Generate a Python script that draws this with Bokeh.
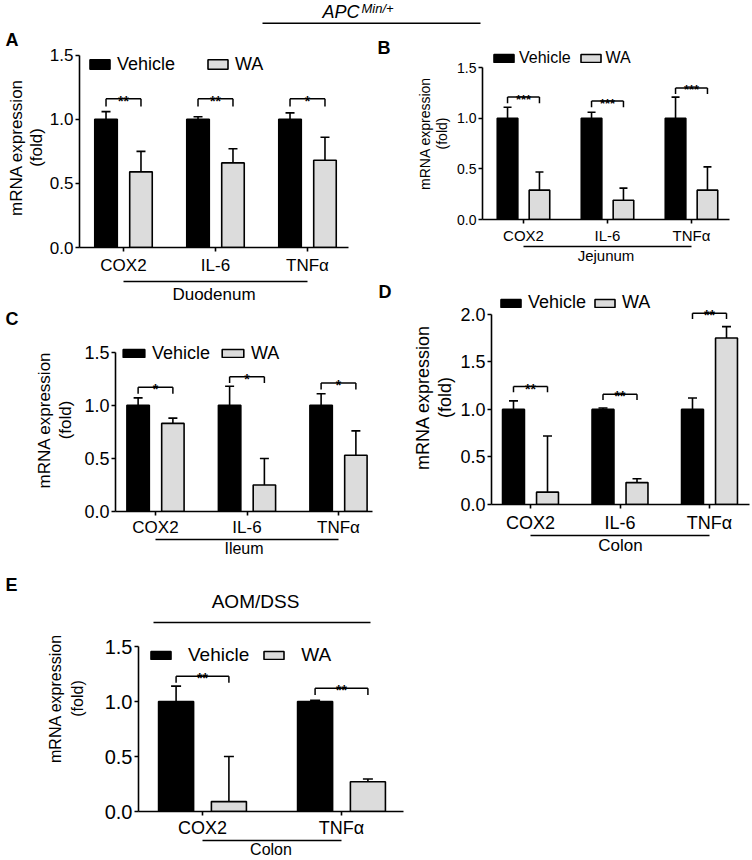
import math
from bokeh.plotting import figure
from bokeh.models import (ColumnDataSource, Range1d, LinearAxis, FixedTicker,
                          NumeralTickFormatter, Whisker, TeeHead, Label, Legend, LegendItem)
from bokeh.layouts import column, row
from bokeh.embed import file_html
from bokeh.resources import INLINE
from bokeh.core.properties import value

FONT = "Liberation Sans"
VEH_COLOR = "black"
WA_COLOR = "#dcdcdc"

genes = ["COX2", "IL-6", "TNFα"]
genes_e = ["COX2", "TNFα"]
series = ["Vehicle", "WA"]

# Panel A - Duodenum (APC Min/+)
a_veh = [1.00, 1.00, 1.00]
a_veh_sd = [0.06, 0.02, 0.05]
a_wa = [0.59, 0.66, 0.68]
a_wa_sd = [0.16, 0.11, 0.18]
a_sig = ["**", "**", "*"]
a_bracket = [1.16, 1.16, 1.16]

# Panel B - Jejunum
b_veh = [1.00, 1.00, 1.00]
b_veh_sd = [0.11, 0.06, 0.21]
b_wa = [0.29, 0.19, 0.29]
b_wa_sd = [0.18, 0.12, 0.23]
b_sig = ["***", "***", "***"]
b_bracket = [1.21, 1.17, 1.30]

# Panel C - Ileum
c_veh = [1.00, 1.00, 1.00]
c_veh_sd = [0.07, 0.18, 0.11]
c_wa = [0.83, 0.25, 0.53]
c_wa_sd = [0.05, 0.25, 0.23]
c_sig = ["*", "*", "*"]
c_bracket = [1.17, 1.27, 1.21]

# Panel D - Colon
d_veh = [1.00, 1.00, 1.00]
d_veh_sd = [0.09, 0.015, 0.12]
d_wa = [0.13, 0.23, 1.75]
d_wa_sd = [0.59, 0.04, 0.12]
d_sig = ["**", "**", "**"]
d_bracket = [1.24, 1.16, 2.01]

# Panel E - Colon (AOM/DSS)
e_veh = [1.00, 1.00]
e_veh_sd = [0.14, 0.01]
e_wa = [0.09, 0.27]
e_wa_sd = [0.41, 0.025]
e_sig = ["**", "**"]
e_bracket = [1.23, 1.12]

yticks_15 = [0.0, 0.5, 1.0, 1.5]
yticks_20 = [0.0, 0.5, 1.0, 1.5, 2.0]


def make_panel(cats, veh, veh_sd, wa, wa_sd, sig, bracket, tissue, letter, c):
    X0, Y0, W, H = c["canvas"]
    L, R, B, k, ytop = c["L"], c["R"], c["B"], c["k"], c["ytop"]
    T = B - ytop * k
    c0, sp = c["c0"], c["sp"]
    off, bw = c["off"], c["bw"]
    p = figure(width=W, height=H, output_backend="svg", toolbar_location=None,
               x_range=Range1d((L - c0) / sp, (R - c0) / sp),
               y_range=Range1d(0, ytop),
               min_border_left=int(round(L - X0)), min_border_right=int(round(X0 + W - R)),
               min_border_top=int(round(T - Y0)), min_border_bottom=int(round(Y0 + H - B)),
               x_axis_type=None, y_axis_type=None, frame_align=False)
    p.outline_line_color = None
    p.background_fill_color = "white"
    p.border_fill_color = "white"

    # panel letter as a left-aligned title
    lx, lb = c["letter"]
    lfs = 18
    p.title.text = letter
    p.title.align = "left"
    p.title.offset = lx - L
    p.title.text_font = FONT
    p.title.text_font_size = f"{lfs}px"
    p.title.text_font_style = "bold"
    p.title.text_color = "black"
    p.title.vertical_align = "bottom"
    p.title.standoff = int(round(2 * (T - (lb + 0.21 * lfs))))

    yax = LinearAxis(ticker=FixedTicker(ticks=c["yticks"]),
                     formatter=NumeralTickFormatter(format="0.0"),
                     bounds=(0, c["yticks"][-1]))
    yax.major_tick_out = 4
    yax.major_tick_in = 0
    yax.minor_tick_line_color = None
    yax.axis_line_width = 1.6
    yax.major_tick_line_width = 1.6
    yax.major_label_text_font = FONT
    yax.major_label_text_font_size = c["tick_fs"]
    yax.major_label_text_color = "black"
    yax.major_label_standoff = 2
    yax.axis_label = "mRNA expression\n(fold)"
    yax.axis_label_text_font = FONT
    yax.axis_label_text_font_size = c["ylab_fs"]
    yax.axis_label_text_font_style = "normal"
    yax.axis_label_text_color = "black"
    yax.axis_label_standoff = c["ylab_standoff"]
    yax.axis_label_text_line_height = c["ylab_lh"]
    p.add_layout(yax, "left")

    xs = list(range(len(cats)))
    xax = LinearAxis(ticker=FixedTicker(ticks=xs),
                     major_label_overrides={i: cat for i, cat in enumerate(cats)})
    xax.major_tick_out = 4
    xax.major_tick_in = 0
    xax.minor_tick_line_color = None
    xax.axis_line_width = 1.6
    xax.major_tick_line_width = 1.6
    xax.major_label_text_font = FONT
    xax.major_label_text_font_size = c["cat_fs"]
    xax.major_label_text_color = "black"
    xax.major_label_standoff = c["cat_standoff"]
    if c["gap"] is not None:
        xax.axis_label = " "
        xax.axis_label_text_font_size = "1px"
        xax.axis_label_standoff = c["gap"]
    p.add_layout(xax, "below")

    tax = LinearAxis(ticker=FixedTicker(ticks=[]), bounds=(0, len(cats) - 1),
                     axis_label=tissue)
    tax.major_tick_out = 0
    tax.major_tick_in = 0
    tax.minor_tick_line_color = None
    tax.major_label_standoff = 0
    tax.axis_line_width = 1.6
    tax.axis_label_text_font = FONT
    tax.axis_label_text_font_size = c["tis_fs"]
    tax.axis_label_text_font_style = "normal"
    tax.axis_label_text_color = "black"
    tax.axis_label_standoff = c["tis_standoff"]
    tax.axis_label_text_line_height = c["tis_lh"]
    p.add_layout(tax, "below")

    xv = [i - off for i in xs]
    xw = [i + off for i in xs]
    leg = c["leg"]
    src = ColumnDataSource(dict(
        x=xs, xv=xv, xw=xw, veh=veh, wa=wa,
        veh_up=[v + s for v, s in zip(veh, veh_sd)],
        wa_up=[v + s for v, s in zip(wa, wa_sd)],
        br=bracket, br_low=[b - leg for b in bracket], sig=sig))

    for base, lo, hi in (("xv", "veh", "veh_up"), ("xw", "wa", "wa_up")):
        p.add_layout(Whisker(source=src, base=base, lower=lo, upper=hi, dimension="height",
                             line_width=1.6, line_color="black",
                             upper_head=TeeHead(size=c["cap"], line_width=1.6, line_color="black"),
                             lower_head=None))

    r_veh = p.vbar(x="xv", top="veh", bottom=0, width=bw, source=src,
                   fill_color=VEH_COLOR, line_color="black", line_width=1.6)
    r_wa = p.vbar(x="xw", top="wa", bottom=0, width=bw, source=src,
                  fill_color=WA_COLOR, line_color="black", line_width=1.6)

    p.segment(x0="xv", y0="br", x1="xw", y1="br", source=src, line_color="black", line_width=1.5)
    p.segment(x0="xv", y0="br_low", x1="xv", y1="br", source=src, line_color="black", line_width=1.5)
    p.segment(x0="xw", y0="br_low", x1="xw", y1="br", source=src, line_color="black", line_width=1.5)
    p.text(x="x", y="br", text="sig", source=src, text_align="center",
           text_baseline="alphabetic", text_font=value(FONT), text_font_size=c["star_fs"],
           text_font_style="bold", text_color="black", y_offset=c["star_dy"])

    gx, gy, gw, gh = c["legend"]
    fs = float(c["leg_fs"][:-2])
    lh = max(gh, fs * 1.2)
    legend = Legend(items=[LegendItem(label=series[0], renderers=[r_veh]),
                           LegendItem(label=series[1], renderers=[r_wa])],
                    orientation="horizontal",
                    location=(gx - L, B - (gy + lh / 2)))
    legend.glyph_width = gw
    legend.glyph_height = gh
    legend.label_height = gh
    legend.label_standoff = c["leg_standoff"]
    legend.spacing = c["leg_spacing"]
    legend.padding = 0
    legend.margin = 0
    legend.border_line_color = None
    legend.background_fill_alpha = 0
    legend.label_text_font = FONT
    legend.label_text_font_size = c["leg_fs"]
    legend.label_text_color = "black"
    p.add_layout(legend)
    return p, B, k, L


base_cfg = dict(off=0.19, bw=0.245, leg=0.06, cap=9, star_fs="14px", star_dy=2,
                cat_standoff=4, gap=None, tis_standoff=0, tis_lh=1.0)

cfgA = dict(base_cfg, canvas=(0, 26, 376, 280), L=79, R=348, B=247, k=128, ytop=1.56,
            yticks=yticks_15, c0=123, sp=92, tis_standoff=3, gap=0,
            tick_fs="17px", cat_fs="17px", tis_fs="17px", ylab_fs="17px", leg_fs="18px",
            ylab_standoff=1, ylab_lh=1.06,
            legend=(87, 64, 25, 12), leg_standoff=5, leg_spacing=30,
            letter=(5, 46))
cfgB = dict(base_cfg, canvas=(376, 26, 376, 250), L=482, R=729, B=219, k=101.3, ytop=1.70,
            yticks=yticks_15, c0=523, sp=84, cap=8, star_fs="13px", cat_standoff=3,
            tick_fs="14px", cat_fs="15px", tis_fs="15px", ylab_fs="14px", leg_fs="16px",
            ylab_standoff=4, ylab_lh=1.07,
            legend=(491, 57.5, 25, 10), leg_standoff=3, leg_spacing=7,
            letter=(377, 53))
cfgC = dict(base_cfg, canvas=(0, 306, 376, 262), L=115, R=372, B=511, k=107.3, ytop=1.724,
            yticks=yticks_15, c0=155, sp=91.5, cat_standoff=2,
            tick_fs="18px", cat_fs="17px", tis_fs="16px", ylab_fs="17px", leg_fs="18px",
            ylab_standoff=6, ylab_lh=1.12,
            legend=(120, 353, 27, 10), leg_standoff=5, leg_spacing=9,
            letter=(5, 322))
cfgD = dict(base_cfg, canvas=(376, 276, 376, 292), L=491, R=749, B=504, k=95, ytop=2.25,
            yticks=yticks_20, c0=530, sp=89.5,
            tick_fs="18px", cat_fs="18px", tis_fs="17px", ylab_fs="18px", leg_fs="18px",
            ylab_standoff=2, ylab_lh=1.11,
            legend=(498, 302.5, 25, 10), leg_standoff=5, leg_spacing=6,
            letter=(378, 298))
cfgE = dict(base_cfg, canvas=(0, 568, 752, 292), L=138, R=403, B=811, k=110, ytop=2.055,
            yticks=yticks_15, c0=202, sp=139, bw=0.252, cap=10, cat_standoff=2,
            tick_fs="20px", cat_fs="18px", tis_fs="16px", tis_lh=0.9, ylab_fs="16px",
            leg_fs="19px", ylab_standoff=16, ylab_lh=1.3,
            legend=(148, 655, 25, 10), leg_standoff=15, leg_spacing=12,
            letter=(5, 590))

pA, _, _, _ = make_panel(genes, a_veh, a_veh_sd, a_wa, a_wa_sd, a_sig, a_bracket, "Duodenum", "A", cfgA)
pB, _, _, _ = make_panel(genes, b_veh, b_veh_sd, b_wa, b_wa_sd, b_sig, b_bracket, "Jejunum", "B", cfgB)
pC, _, _, _ = make_panel(genes, c_veh, c_veh_sd, c_wa, c_wa_sd, c_sig, c_bracket, "Ileum", "C", cfgC)
pD, _, _, _ = make_panel(genes, d_veh, d_veh_sd, d_wa, d_wa_sd, d_sig, d_bracket, "Colon", "D", cfgD)
pE, eB, ek, eL = make_panel(genes_e, e_veh, e_veh_sd, e_wa, e_wa_sd, e_sig, e_bracket, "Colon", "E", cfgE)

# AOM/DSS group header inside panel E
pE.add_layout(Label(x=255 - eL, y=eB - 601, x_units="screen", y_units="screen", text="AOM/DSS",
                    text_align="center", text_baseline="middle", text_font=FONT,
                    text_font_size="19px", text_color="black"))
hy = (eB - 622) / ek
pE.line(x=[(153 - cfgE["c0"]) / cfgE["sp"], (370 - cfgE["c0"]) / cfgE["sp"]], y=[hy, hy],
        line_color="black", line_width=1.5)

# Top header (APC Min/+) spanning panels A and B; y measured upward from the header bottom
HDR_H = 26
hdr = figure(width=752, height=HDR_H, output_backend="svg", toolbar_location=None,
             x_range=Range1d(0, 752), y_range=Range1d(0, HDR_H), min_border=0,
             x_axis_type=None, y_axis_type=None, frame_align=False)
hdr.title.visible = False
hdr.outline_line_color = None
hdr.line(x=[262, 480], y=[HDR_H - 22.7, HDR_H - 22.7], line_color="black", line_width=1.5)
hdr.add_layout(Label(x=322, y=HDR_H - 11.5, text="APC", text_font=FONT, text_font_style="italic",
                     text_font_size="18px", text_baseline="middle", text_color="black"))
hdr.add_layout(Label(x=361, y=HDR_H - 8.0, text="Min/+", text_font=FONT, text_font_style="italic",
                     text_font_size="13px", text_baseline="middle", text_color="black"))

layout = column(hdr,
                row(column(pA, pC, spacing=0), column(pB, pD, spacing=0), spacing=0),
                pE, spacing=0)

open("out.html", "w").write(file_html(layout, INLINE))
